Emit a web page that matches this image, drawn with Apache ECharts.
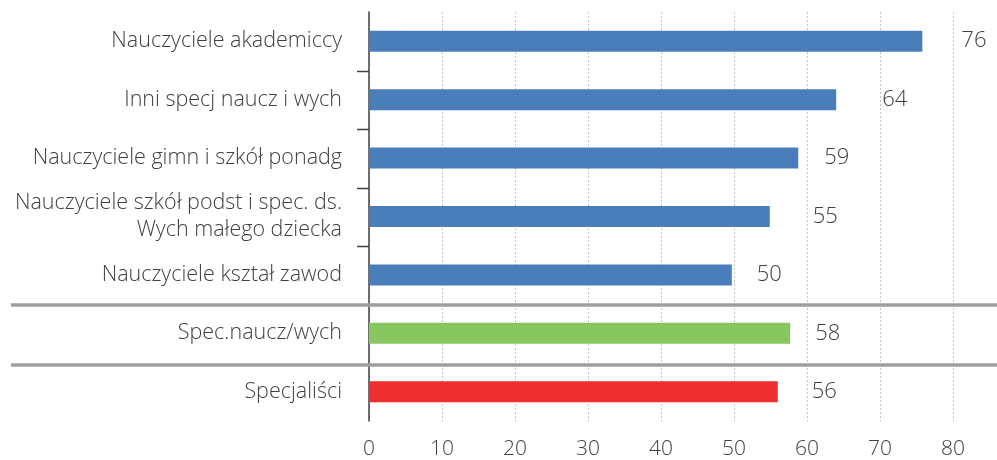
<!DOCTYPE html>
<html>
<head>
<meta charset="utf-8">
<script src="https://cdn.jsdelivr.net/npm/echarts@6/dist/echarts.min.js"></script>
<style>
  html, body { margin: 0; padding: 0; background: #fff; }
  #viz { width: 997px; height: 460px; }
</style>
</head>
<body>
<div id="viz"></div>
<script>
// categories, top to bottom
var categories = [
  'Nauczyciele akademiccy',
  'Inni specj naucz i wych',
  'Nauczyciele gimn i szkół ponadg',
  'Nauczyciele szkół podst i spec. ds.\nWych małego dziecka',
  'Nauczyciele kształ zawod',
  'Spec.naucz/wych',
  'Specjaliści'
];
var values = [75.8, 64.0, 58.8, 54.9, 49.7, 57.7, 56.0];
var groups = ['teach', 'teach', 'teach', 'teach', 'teach', 'spec', 'all'];
var xTicks = [0, 10, 20, 30, 40, 50, 60, 70, 80];

var groupColor = { teach: '#4a7ebb', spec: '#88c65f', all: '#ef2f2f' };
// label gaps as placed in the original (hand moved)
var labelGap = [39, 46, 26, 43, 25, 25, 34];

var gridTop = 12, gridHeight = 410, gridLeft = 369;
var band = gridHeight / categories.length;
var fontFam = '"Open Sans", "Noto Sans", sans-serif';
var textCol = '#404040';

function drawChart() {
  var dom = document.getElementById('viz');
  var myChart = echarts.init(dom);

  var seriesData = [];
  for (var i = 0; i < values.length; i++) {
    seriesData.push({
      value: values[i],
      itemStyle: { color: groupColor[groups[i]] },
      label: { distance: labelGap[i] }
    });
  }

  // ticks between the teacher groups, separators between sections
  var graphics = [];
  for (var k = 1; k <= 4; k++) {
    var y = Math.round(gridTop + band * k) + 0.5;
    graphics.push({
      type: 'line', silent: true,
      shape: { x1: gridLeft - 12, y1: y, x2: gridLeft, y2: y },
      style: { stroke: '#404040', lineWidth: 1.5 }
    });
  }
  for (var k = 5; k <= 6; k++) {
    var y = Math.round(gridTop + band * k) + (k == 6 ? 2 : 0);
    graphics.push({
      type: 'line', silent: true, z: 10,
      shape: { x1: 11, y1: y, x2: 997, y2: y },
      style: { stroke: '#9e9e9e', lineWidth: 3.5 }
    });
  }

  var option = {
    animation: false,
    grid: { left: gridLeft, right: 44, top: gridTop, height: gridHeight, containLabel: false },
    xAxis: {
      type: 'value',
      min: xTicks[0],
      max: xTicks[xTicks.length - 1],
      interval: 10,
      axisLine: { show: false },
      axisTick: { show: false },
      axisLabel: { color: textCol, fontSize: 21, fontWeight: 300, fontFamily: fontFam, margin: 18 },
      splitLine: { lineStyle: { color: '#c4c4c4', type: [2, 2], width: 1 } }
    },
    yAxis: {
      type: 'category',
      inverse: true,
      data: categories,
      axisLine: { show: true, lineStyle: { color: '#404040', width: 1.5 } },
      axisTick: { show: false },
      axisLabel: {
        color: textCol, fontSize: 21.5, fontWeight: 300, fontFamily: fontFam,
        margin: 27, lineHeight: 27, align: 'right'
      }
    },
    graphic: graphics,
    series: [{
      type: 'bar',
      barWidth: 21,
      data: seriesData,
      label: {
        show: true,
        position: 'right',
        color: textCol,
        fontSize: 22,
        fontWeight: 300,
        fontFamily: fontFam,
        formatter: function (p) { return Math.round(p.value); }
      }
    }]
  };
  myChart.setOption(option);
}

drawChart();
</script>
</body>
</html>
